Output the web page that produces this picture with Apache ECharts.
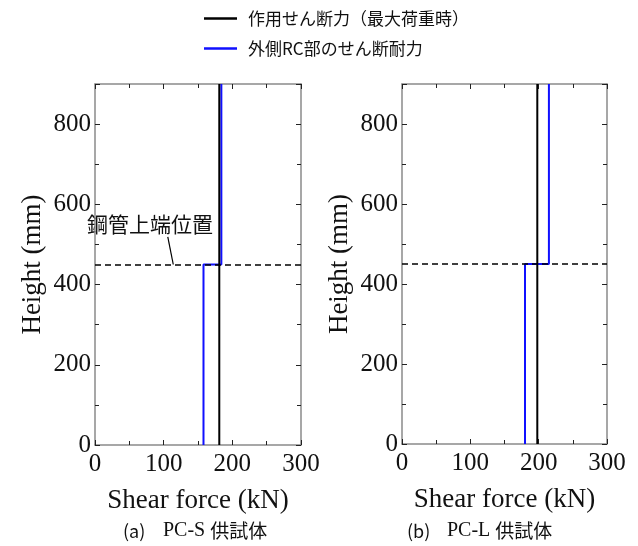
<!DOCTYPE html>
<html>
<head>
<meta charset="utf-8">
<script src="https://cdn.jsdelivr.net/npm/echarts@6/dist/echarts.min.js"></script>
<style>html,body{margin:0;padding:0;background:#fff}#c{width:638px;height:546px}</style>
</head>
<body>
<div id="c"></div>
<script>
var seriesNames = ['作用せん断力（最大荷重時）', '外側RC部のせん断耐力'];
var captions = ['(a)', '(b)'];
var specimenNames = ['PC-S', 'PC-L'];
var xTicks = [0, 100, 200, 300];
var yTicks = [0, 200, 400, 600, 800];
// [shear force kN, height mm]
var actingS = [[181, 0], [181, 900]];
var capacityS = [[158, 0], [158, 450], [184, 450], [184, 900]];
var actingL = [[198, 0], [198, 900]];
var capacityL = [[180, 0], [180, 450], [215, 450], [215, 900]];
var pipeTop = 450;
var leader = [[106, 519], [114, 450]];

var chart = echarts.init(document.getElementById('c'), null, {renderer: 'canvas'});
var serif = '"Liberation Serif", "Times New Roman", serif';
var cjk = '"Noto Sans CJK JP", sans-serif';
var axisGray = '#8a8a8a';

function xAxisDef(gi, pos, show) {
  return {
    gridIndex: gi, type: 'value', min: 0, max: 300, interval: 100, position: pos,
    axisLine: {show: true, onZero: false, lineStyle: {color: axisGray, width: 1.5}},
    axisTick: {show: true, inside: true, length: 5, lineStyle: {color: '#222', width: 1}},
    minorTick: {show: true, splitNumber: 2, length: 4, lineStyle: {color: '#222', width: 1}},
    axisLabel: {show: show, color: '#111', fontFamily: serif, fontSize: 25, margin: 7},
    splitLine: {show: false},
    name: show ? 'Shear force (kN)' : '', nameLocation: 'middle', nameGap: 42,
    nameTextStyle: {color: '#111', fontFamily: serif, fontSize: 27}
  };
}
function yAxisDef(gi, pos, show) {
  return {
    gridIndex: gi, type: 'value', min: 0, max: 900, interval: 200, position: pos,
    axisLine: {show: true, onZero: false, lineStyle: {color: axisGray, width: 1.5}},
    axisTick: {show: true, inside: true, length: 5, lineStyle: {color: '#222', width: 1}},
    minorTick: {show: true, splitNumber: 2, length: 4, lineStyle: {color: '#222', width: 1}},
    axisLabel: {show: show, color: '#111', fontFamily: serif, fontSize: 25, margin: 4,
      formatter: function (v) { return yTicks.indexOf(v) >= 0 ? String(v) : ''; }},
    splitLine: {show: false},
    name: show ? 'Height (mm)' : '', nameLocation: 'middle', nameGap: 49,
    nameTextStyle: {color: '#111', fontFamily: serif, fontSize: 27}
  };
}

function lineSeries(name, data, color, xi, yi, extra) {
  var s = {
    name: name, type: 'line', data: data, xAxisIndex: xi, yAxisIndex: yi,
    symbol: 'none', lineStyle: {color: color, width: 2}, itemStyle: {color: color},
    animation: false, z: name === seriesNames[0] ? 4 : 3
  };
  for (var k in extra) s[k] = extra[k];
  return s;
}
function dashed(withLeader) {
  var data = [{yAxis: pipeTop}];
  if (withLeader) {
    data.push([{coord: leader[0], lineStyle: {type: 'solid', width: 1.2}}, {coord: leader[1]}]);
  }
  return {
    silent: true, symbol: ['none', 'none'], label: {show: false},
    lineStyle: {color: '#000', type: [6, 4], width: 1.5}, data: data
  };
}

var option = {
  backgroundColor: '#fff',
  animation: false,
  legend: {
    orient: 'vertical', left: 199, top: 5, itemGap: 13,
    itemWidth: 33, itemHeight: 2.5, icon: 'rect',
    textStyle: {fontFamily: cjk, fontSize: 17, color: '#111', padding: [0, 0, 0, 6], lineHeight: 17},
    data: [
      {name: seriesNames[0], itemStyle: {color: '#000'}},
      {name: seriesNames[1], itemStyle: {color: '#1010ff'}}
    ]
  },
  grid: [
    {left: 95, top: 84, width: 206, height: 361},
    {left: 402, top: 84, width: 205, height: 360}
  ],
  xAxis: [xAxisDef(0, 'bottom', true), xAxisDef(0, 'top', false), xAxisDef(1, 'bottom', true), xAxisDef(1, 'top', false)],
  yAxis: [yAxisDef(0, 'left', true), yAxisDef(0, 'right', false), yAxisDef(1, 'left', true), yAxisDef(1, 'right', false)],
  series: [
    lineSeries(seriesNames[1], capacityS, '#1010ff', 0, 0, {}),
    lineSeries(seriesNames[0], actingS, '#000', 0, 0, {markLine: dashed(true)}),
    lineSeries(seriesNames[1], capacityL, '#1010ff', 2, 2, {}),
    lineSeries(seriesNames[0], actingL, '#000', 2, 2, {markLine: dashed(false)})
  ],
  graphic: [
    {type: 'text', left: 87, top: 214, style: {text: '鋼管上端位置', font: '21px ' + cjk, fill: '#111'}},
    {type: 'text', left: 123, top: 521, style: {
      text: '{a|' + captions[0] + '}{b|' + specimenNames[0] + ' }{c|供試体}',
      rich: {a: {fontFamily: cjk, fontSize: 18, width: 40, fill: '#111'},
             b: {fontFamily: serif, fontSize: 20, fill: '#111'},
             c: {fontFamily: cjk, fontSize: 19, fill: '#111'}}}},
    {type: 'text', left: 407, top: 521, style: {
      text: '{a|' + captions[1] + '}{b|' + specimenNames[1] + ' }{c|供試体}',
      rich: {a: {fontFamily: cjk, fontSize: 18, width: 40, fill: '#111'},
             b: {fontFamily: serif, fontSize: 20, fill: '#111'},
             c: {fontFamily: cjk, fontSize: 19, fill: '#111'}}}}
  ]
};
chart.setOption(option);
</script>
</body>
</html>
